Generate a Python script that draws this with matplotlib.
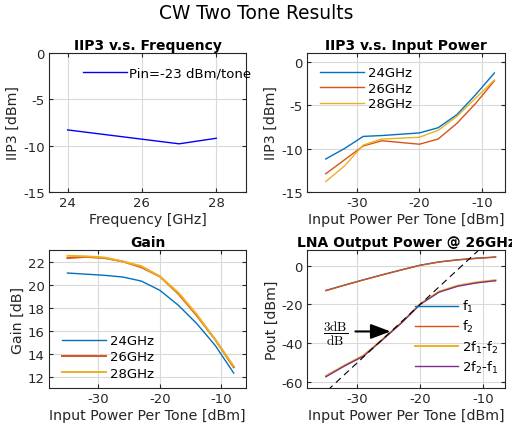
import matplotlib
matplotlib.use("Agg")
import matplotlib.pyplot as plt
import numpy as np

plt.rcParams.update({
    "font.family": "DejaVu Sans",
    "font.size": 9,
    "axes.unicode_minus": False,
    "mathtext.default": "regular",
})

# MATLAB default colours
C_BLUE = (0.0, 0.447, 0.741)
C_ORANGE = (0.85, 0.325, 0.098)
C_YELLOW = (0.929, 0.694, 0.125)
C_PURPLE = (0.494, 0.184, 0.556)
AX_COL = (0.15, 0.15, 0.15)

# IIP3 vs frequency at Pin = -23 dBm/tone
freq = [24, 25, 26, 27, 28]
iip3_freq = [-8.3, -8.8, -9.3, -9.8, -9.2]

# input power per tone sweep
pin = [-35, -32, -29, -26, -23, -20, -17, -14, -11, -8]
iip3_24 = [-11.2, -10.0, -8.6, -8.5, -8.35, -8.2, -7.6, -6.1, -3.8, -1.3]
iip3_26 = [-12.9, -11.3, -9.7, -9.1, -9.3, -9.5, -8.9, -7.1, -4.8, -2.2]
iip3_28 = [-13.8, -12.0, -9.6, -8.9, -8.8, -8.7, -7.9, -6.3, -4.2, -2.1]

gain_24 = [21.0, 20.9, 20.8, 20.65, 20.3, 19.5, 18.2, 16.6, 14.7, 12.3]
gain_26 = [22.3, 22.4, 22.3, 22.0, 21.5, 20.7, 19.2, 17.3, 15.2, 12.8]
gain_28 = [22.5, 22.45, 22.35, 22.0, 21.6, 20.7, 19.3, 17.4, 15.2, 12.9]

# output power @ 26GHz
pout_f1 = [-12.8, -10.0, -7.3, -4.7, -2.2, 0.2, 1.9, 3.0, 3.8, 4.4]
pout_f2 = [-12.9, -10.1, -7.4, -4.8, -2.3, 0.1, 1.8, 2.9, 3.7, 4.3]
pout_im1 = [-56.8, -51.3, -46.2, -38.0, -29.5, -19.8, -13.4, -10.3, -8.6, -7.5]
pout_im2 = [-57.2, -51.6, -46.6, -38.2, -29.6, -20.0, -13.7, -10.6, -8.9, -7.8]
slope_x = [-36, -10]

LBL = 10.2
TTL = 10


def style(ax):
    ax.grid(True, color=(0.85, 0.85, 0.85), lw=0.8)
    ax.set_axisbelow(True)
    ax.tick_params(direction="in", top=True, right=True, length=3,
                   colors=AX_COL, labelsize=9.5, pad=3)
    for s in ax.spines.values():
        s.set_color(AX_COL)
        s.set_linewidth(0.8)


fig = plt.figure(figsize=(5.12, 4.31), dpi=100)
fig.suptitle("CW Two Tone Results", x=0.5, y=0.99, fontsize=13.4)

ax1 = fig.add_axes([0.0957, 0.5522, 0.3848, 0.3225])
ax2 = fig.add_axes([0.5996, 0.5522, 0.3867, 0.3225])
ax3 = fig.add_axes([0.0957, 0.0974, 0.3848, 0.3202])
ax4 = fig.add_axes([0.5996, 0.0974, 0.3867, 0.3202])

leg_kw = dict(frameon=False, loc="upper left", borderpad=0, borderaxespad=0,
              handlelength=3.3, handletextpad=0.3, fontsize=9.5)

# IIP3 vs frequency
ax1.plot(freq, iip3_freq, color="b", lw=1.0, label="Pin=-23 dBm/tone")
ax1.set_xlim(23.5, 28.8)
ax1.set_ylim(-15, 0)
ax1.set_xticks([24, 26, 28])
ax1.set_yticks([-15, -10, -5, 0])
ax1.set_xlabel("Frequency [GHz]", fontsize=LBL, color=AX_COL, labelpad=2)
ax1.set_ylabel("IIP3 [dBm]", fontsize=LBL, color=AX_COL, labelpad=2)
ax1.set_title("IIP3 v.s. Frequency", fontsize=TTL, fontweight="bold", pad=3)
ax1.legend(bbox_to_anchor=(0.173, 0.905), labelspacing=0.3,
           **{**leg_kw, "handletextpad": 0.2})
style(ax1)

# IIP3 vs input power
ax2.plot(pin, iip3_24, color=C_BLUE, lw=1.0, label="24GHz")
ax2.plot(pin, iip3_26, color=C_ORANGE, lw=1.0, label="26GHz")
ax2.plot(pin, iip3_28, color=C_YELLOW, lw=1.0, label="28GHz")
ax2.set_xlim(-38, -6.3)
ax2.set_ylim(-15, 1)
ax2.set_xticks([-30, -20, -10])
ax2.set_yticks([-15, -10, -5, 0])
ax2.set_xlabel("Input Power Per Tone [dBm]", fontsize=LBL, color=AX_COL, labelpad=2)
ax2.set_ylabel("IIP3 [dBm]", fontsize=LBL, color=AX_COL, labelpad=2)
ax2.set_title("IIP3 v.s. Input Power", fontsize=TTL, fontweight="bold", pad=3)
ax2.legend(bbox_to_anchor=(0.066, 0.905), labelspacing=0.2, **leg_kw)
style(ax2)

# Gain
ax3.plot(pin, gain_24, color=C_BLUE, lw=1.0, label="24GHz")
ax3.plot(pin, gain_26, color=C_ORANGE, lw=1.4, label="26GHz")
ax3.plot(pin, gain_28, color=C_YELLOW, lw=1.4, label="28GHz")
ax3.set_xlim(-38, -6)
ax3.set_ylim(11, 23)
ax3.set_xticks([-30, -20, -10])
ax3.set_yticks([12, 14, 16, 18, 20, 22])
ax3.set_xlabel("Input Power Per Tone [dBm]", fontsize=LBL, color=AX_COL, labelpad=2)
ax3.set_ylabel("Gain [dB]", fontsize=LBL, color=AX_COL, labelpad=2)
ax3.set_title("Gain", fontsize=TTL, fontweight="bold", pad=3)
ax3.legend(bbox_to_anchor=(0.066, 0.39), labelspacing=0.25, **leg_kw)
style(ax3)

# LNA output power
ax4.plot(pin, pout_f1, color=C_BLUE, lw=1.0, label="f$_1$")
ax4.plot(pin, pout_f2, color=C_ORANGE, lw=1.0, label="f$_2$")
ax4.plot(pin, pout_im1, color=C_YELLOW, lw=1.4, label="2f$_1$-f$_2$")
ax4.plot(pin, pout_im2, color=C_PURPLE, lw=1.0, label="2f$_2$-f$_1$")
sx = np.array(slope_x)
ax4.plot(sx, 3 * sx + 40, color="k", lw=0.8, ls=(0, (6, 4)))
ax4.annotate("", xy=(-24.7, -33.9), xytext=(-30.3, -33.9),
             arrowprops=dict(arrowstyle="-|>,head_length=0.8,head_width=0.3",
                             color="k", lw=1.5, mutation_scale=15,
                             shrinkA=0, shrinkB=0))
ax4.text(-33.5, -34.6, r"$\dfrac{\mathrm{3dB}}{\mathrm{dB}}$", math_fontfamily="cm",
         ha="center", va="center", fontsize=9.5)
ax4.set_xlim(-38, -6.5)
ax4.set_ylim(-63, 8)
ax4.set_xticks([-30, -20, -10])
ax4.set_yticks([-60, -40, -20, 0])
ax4.set_xlabel("Input Power Per Tone [dBm]", fontsize=LBL, color=AX_COL, labelpad=2)
ax4.set_ylabel("Pout [dBm]", fontsize=LBL, color=AX_COL, labelpad=2)
ax4.set_title("LNA Output Power @ 26GHz", fontsize=TTL, fontweight="bold", pad=3)
ax4.legend(bbox_to_anchor=(0.545, 0.65), labelspacing=0.3, **leg_kw)
style(ax4)

fig.savefig("out.png", dpi=100)
